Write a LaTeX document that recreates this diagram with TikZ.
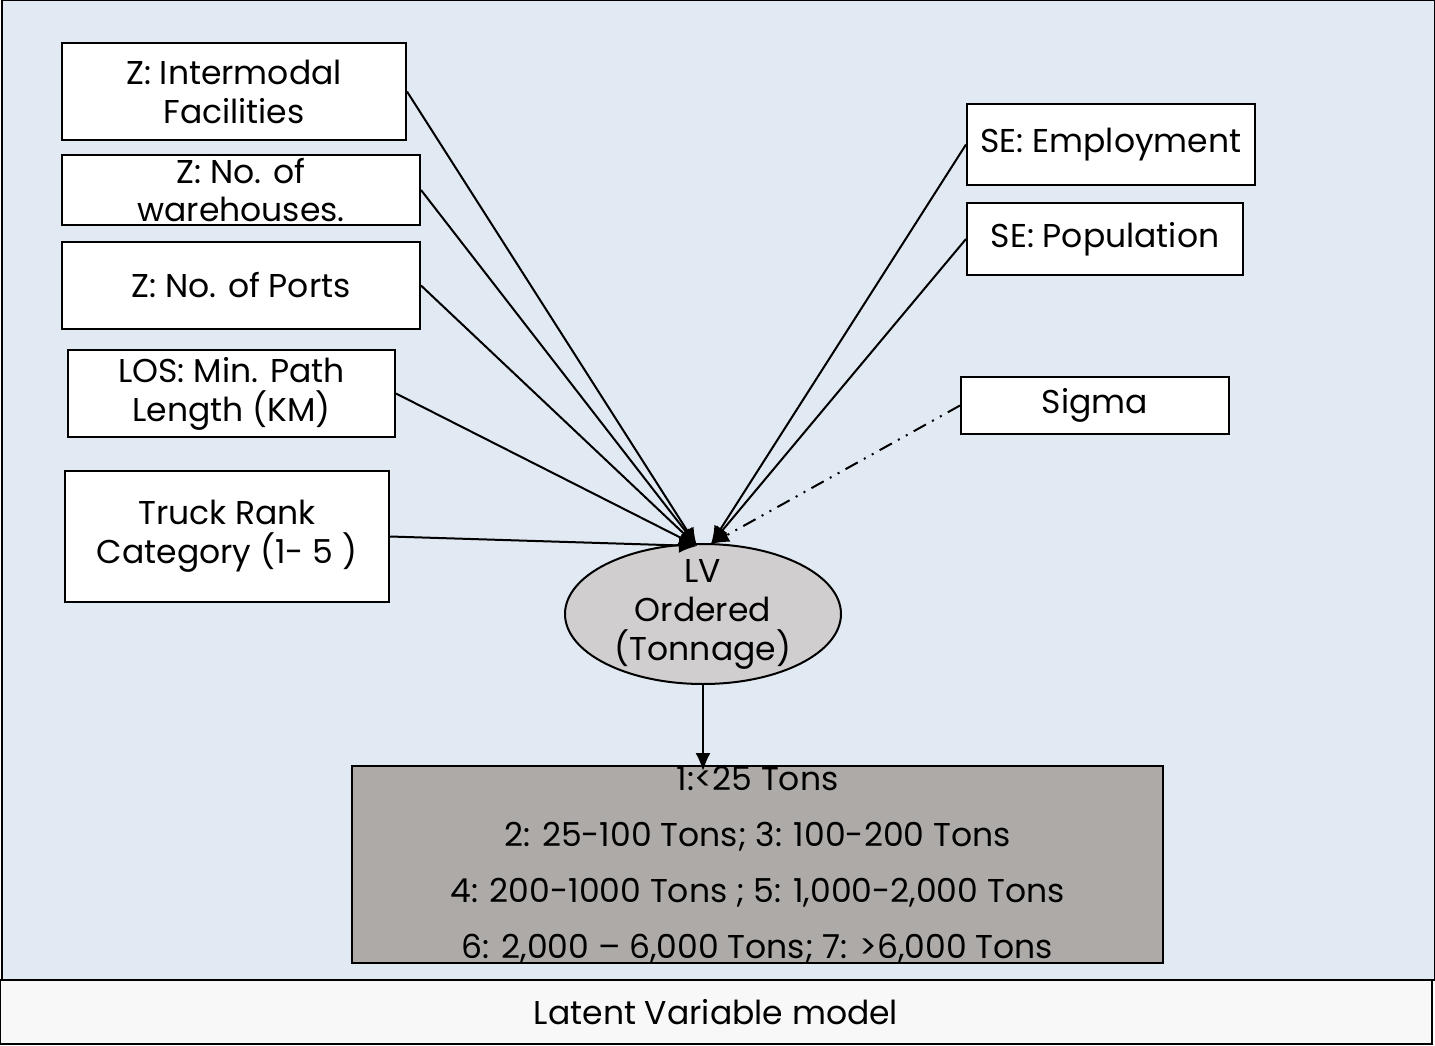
\documentclass[tikz,border=0pt]{standalone}
\usepackage{fontspec}
\setmainfont{Poppins}
\usepackage{tikz}
\usetikzlibrary{arrows.meta,positioning,shapes.geometric}
\usepackage{xcolor}
\definecolor{panelblue}{RGB}{225,233,242}
\definecolor{lvgray}{RGB}{209,206,207}
\definecolor{classgray}{RGB}{174,170,168}
\definecolor{capwhite}{RGB}{248,248,248}

\begin{document}
\begin{tikzpicture}[x=1pt, y=-1pt,
  every node/.style={font=\fontsize{33}{39}\selectfont},
  varbox/.style={draw, line width=2pt, fill=white, align=center, inner sep=0pt},
  link/.style={line width=2pt, -{Latex[length=18pt,width=15pt]}}]
  \useasboundingbox (0,0) rectangle (1435,1046);
  % panel and caption
  \draw[line width=2pt, fill=panelblue] (2,0) rectangle (1435,980);
  \node[draw, line width=2pt, fill=capwhite, minimum width=1432pt, minimum height=64pt, inner sep=0pt] (cap) at (716,1012) {Latent Variable model};
  % observed variables
  \node[varbox, minimum width=344pt, minimum height=97pt] (fac) at (234,91.5) {Z: Intermodal\\Facilities};
  \node[varbox, minimum width=358pt, minimum height=70pt, font=\fontsize{33}{38}\selectfont] (ware) at (241,190) {Z: No. of\\warehouses.};
  \node[varbox, minimum width=358pt, minimum height=87pt] (port) at (241,285.5) {Z: No. of Ports};
  \node[varbox, minimum width=327pt, minimum height=87pt] (los) at (231.5,393.5) {LOS: Min. Path\\Length (KM)};
  \node[varbox, minimum width=324pt, minimum height=131pt] (truck) at (227,536.5) {Truck Rank\\Category (1- 5 )};
  \node[varbox, minimum width=288pt, minimum height=81pt] (emp) at (1111,144.5) {SE: Employment};
  \node[varbox, minimum width=276pt, minimum height=72pt] (pop) at (1105,239) {SE: Population};
  \node[varbox, minimum width=268pt, minimum height=57pt] (sig) at (1095,405.5) {Sigma};
  % latent variable
  \node[ellipse, draw, line width=2pt, fill=lvgray, minimum width=276pt, minimum height=140pt, inner sep=-25pt, align=center] (lv) at (703,614) {LV\\Ordered\\(Tonnage)};
  \node[draw, line width=2pt, fill=classgray, minimum width=811pt, minimum height=197pt, inner sep=0pt, align=center, font=\fontsize{33}{56}\selectfont] (cls) at (757.5,864.5) {1:<25 Tons\\2: 25-100 Tons; 3: 100-200 Tons\\4: 200-1000 Tons ; 5: 1,000-2,000 Tons\\6: 2,000 – 6,000 Tons; 7: >6,000 Tons};
  \coordinate (inL) at ([xshift=-6pt,yshift=-3pt]lv.north);
  \coordinate (inR) at ([xshift=8pt,yshift=-1pt]lv.north);
  % arrows
  \draw[link] (fac.east) -- (inL);
  \draw[link] (ware.east) -- (inL);
  \draw[link] (port.east) -- (inL);
  \draw[link] (los.east) -- (inL);
  \draw[link] (truck.east) -- (inL);
  \draw[link] (emp.west) -- (inR);
  \draw[link] (pop.west) -- (inR);
  \draw[link, dash pattern=on 14pt off 7pt on 2pt off 7pt on 2pt off 7pt] (sig.west) -- (inR);
  \draw[link] (lv.south) -- ([yshift=-6pt]cls.north -| lv.south);
\end{tikzpicture}
\end{document}
